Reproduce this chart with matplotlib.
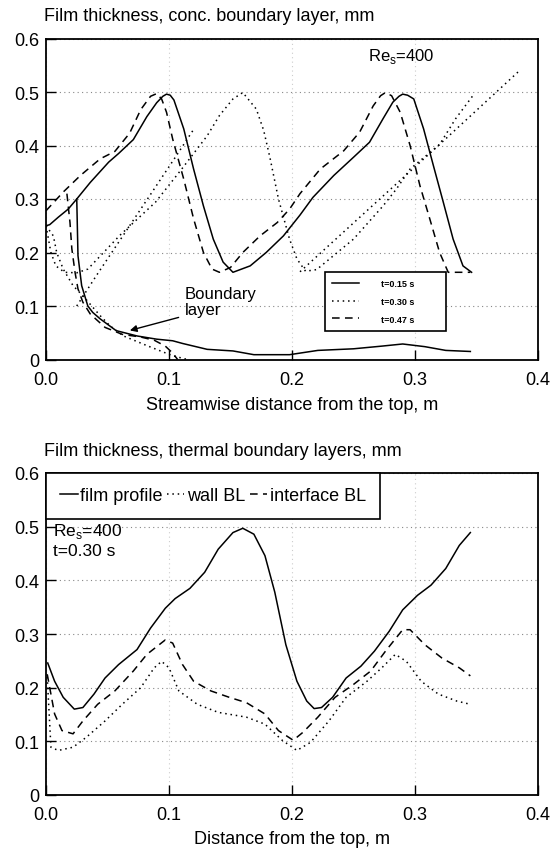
import matplotlib
matplotlib.use('Agg')
import matplotlib.pyplot as plt

plt.rcParams['font.family'] = ['Liberation Sans', 'DejaVu Sans']
plt.rcParams['mathtext.fontset'] = 'custom'
plt.rcParams['mathtext.rm'] = 'Liberation Sans'

# ---- top panel: film profiles and concentration boundary layer ----
x15 = [0.0, 0.003, 0.010, 0.018, 0.025, 0.036, 0.051, 0.059, 0.071, 0.082, 0.090, 0.095,
       0.098, 0.101, 0.104, 0.112, 0.120, 0.128, 0.136, 0.144, 0.152, 0.166, 0.179,
       0.193, 0.2065, 0.217, 0.234, 0.250, 0.263, 0.274, 0.282, 0.287, 0.290, 0.294,
       0.299, 0.307, 0.315, 0.323, 0.331, 0.339, 0.346]
y15 = [0.25, 0.252, 0.266, 0.281, 0.30, 0.331, 0.369, 0.385, 0.411, 0.454, 0.48, 0.492,
       0.496, 0.494, 0.485, 0.431, 0.356, 0.287, 0.225, 0.182, 0.163, 0.175, 0.20,
       0.231, 0.27, 0.303, 0.344, 0.378, 0.406, 0.45, 0.481, 0.492, 0.496, 0.494,
       0.487, 0.431, 0.362, 0.294, 0.225, 0.175, 0.163]
x15_bl = [0.025, 0.026, 0.029, 0.034, 0.038, 0.044, 0.057, 0.074, 0.090, 0.103, 0.111,
          0.131, 0.152, 0.169, 0.198, 0.221, 0.250, 0.273, 0.290, 0.308, 0.325, 0.345]
y15_bl = [0.30, 0.194, 0.138, 0.10, 0.088, 0.076, 0.054, 0.044, 0.038, 0.035, 0.030,
          0.019, 0.016, 0.009, 0.009, 0.017, 0.020, 0.025, 0.029, 0.024, 0.017, 0.015]

x30 = [0.0, 0.004, 0.008, 0.015, 0.025, 0.034, 0.060, 0.089, 0.110, 0.131, 0.141, 0.152,
       0.160, 0.171, 0.177, 0.182, 0.189, 0.198, 0.204, 0.211, 0.220, 0.250, 0.274,
       0.285, 0.296, 0.320, 0.333, 0.347]
y30 = [0.25, 0.20, 0.175, 0.163, 0.162, 0.169, 0.232, 0.294, 0.355, 0.418, 0.456, 0.487,
       0.499, 0.468, 0.428, 0.378, 0.30, 0.225, 0.188, 0.165, 0.168, 0.225, 0.287,
       0.319, 0.356, 0.402, 0.45, 0.493]
x30_bl = [0.0, 0.006, 0.0087, 0.014, 0.022, 0.030, 0.044, 0.052, 0.063, 0.082, 0.103, 0.115]
y30_bl = [0.25, 0.231, 0.20, 0.169, 0.138, 0.119, 0.082, 0.063, 0.044, 0.026, 0.007, 0.0]
x30_a = [0.025, 0.041, 0.106, 0.120]
y30_a = [0.10, 0.157, 0.381, 0.43]
x30_b = [0.2065, 0.320, 0.369, 0.385]
y30_b = [0.164, 0.402, 0.506, 0.54]

x47 = [0.0, 0.014, 0.028, 0.044, 0.056, 0.068, 0.077, 0.085, 0.090, 0.094, 0.098, 0.103,
       0.112, 0.120, 0.128, 0.135, 0.141, 0.150, 0.160, 0.174, 0.188, 0.198, 0.2065,
       0.223, 0.242, 0.255, 0.266, 0.272, 0.276, 0.281, 0.288, 0.296, 0.304, 0.312,
       0.320, 0.327, 0.345]
y47 = [0.278, 0.313, 0.344, 0.375, 0.389, 0.423, 0.467, 0.492, 0.497, 0.487, 0.462, 0.412,
       0.337, 0.263, 0.20, 0.169, 0.163, 0.172, 0.20, 0.231, 0.256, 0.281, 0.31,
       0.356, 0.39, 0.425, 0.474, 0.493, 0.499, 0.493, 0.462, 0.40, 0.325, 0.263,
       0.20, 0.163, 0.163]
x47_bl = [0.017, 0.0195, 0.021, 0.0236, 0.026, 0.030, 0.036, 0.048, 0.062, 0.077, 0.088,
          0.097, 0.103, 0.107]
y47_bl = [0.31, 0.256, 0.207, 0.163, 0.132, 0.107, 0.085, 0.060, 0.047, 0.042, 0.036,
          0.025, 0.012, 0.0]

# ---- bottom panel: thermal boundary layers at t = 0.30 s ----
xf = [0.0014, 0.007, 0.014, 0.023, 0.030, 0.039, 0.048, 0.059, 0.074, 0.085, 0.097, 0.105,
      0.117, 0.129, 0.140, 0.152, 0.160, 0.169, 0.178, 0.186, 0.195, 0.204, 0.212, 0.218,
      0.224, 0.233, 0.244, 0.256, 0.267, 0.279, 0.290, 0.302, 0.313, 0.325, 0.336, 0.345]
yf = [0.246, 0.212, 0.182, 0.160, 0.163, 0.188, 0.218, 0.243, 0.271, 0.311, 0.348, 0.366,
      0.385, 0.415, 0.458, 0.489, 0.497, 0.486, 0.446, 0.378, 0.280, 0.212, 0.175, 0.161,
      0.163, 0.182, 0.218, 0.240, 0.268, 0.305, 0.345, 0.372, 0.391, 0.422, 0.465, 0.489]
xw = [0.001, 0.004, 0.010, 0.022, 0.033, 0.048, 0.062, 0.077, 0.088, 0.094, 0.100, 0.108,
      0.123, 0.140, 0.163, 0.178, 0.192, 0.204, 0.215, 0.230, 0.244, 0.261, 0.273, 0.284,
      0.293, 0.305, 0.319, 0.334, 0.345]
yw = [0.22, 0.089, 0.083, 0.089, 0.108, 0.138, 0.169, 0.200, 0.237, 0.249, 0.237, 0.194,
      0.169, 0.154, 0.145, 0.132, 0.102, 0.083, 0.098, 0.138, 0.182, 0.212, 0.237, 0.262,
      0.249, 0.212, 0.188, 0.175, 0.169]
xi = [0.001, 0.007, 0.013, 0.022, 0.030, 0.042, 0.056, 0.071, 0.082, 0.097, 0.103, 0.111,
      0.120, 0.134, 0.149, 0.163, 0.178, 0.189, 0.201, 0.209, 0.221, 0.235, 0.250, 0.264,
      0.276, 0.290, 0.296, 0.308, 0.322, 0.336, 0.345]
yi = [0.225, 0.151, 0.120, 0.114, 0.138, 0.169, 0.194, 0.231, 0.262, 0.289, 0.283, 0.243,
      0.212, 0.194, 0.182, 0.172, 0.151, 0.120, 0.102, 0.117, 0.145, 0.182, 0.206, 0.231,
      0.268, 0.308, 0.308, 0.280, 0.255, 0.237, 0.222]

xticks = [0.0, 0.1, 0.2, 0.3, 0.4]
xtick_labels = ['0.0', '0.1', '0.2', '0.3', '0.4']
yticks = [0.0, 0.1, 0.2, 0.3, 0.4, 0.5, 0.6]
ytick_labels = ['0', '0.1', '0.2', '0.3', '0.4', '0.5', '0.6']

DOT = (0, (1, 2.5))
DASH = (0, (5, 3.5))
LW = 1.1

W, H = 558, 854
fig = plt.figure(figsize=(W / 100, H / 100), dpi=100)


def frame(ax):
    ax.set_xlim(0, 0.4)
    ax.set_ylim(0, 0.6)
    ax.set_xticks(xticks)
    ax.set_xticklabels(xtick_labels)
    ax.set_yticks(yticks)
    ax.set_yticklabels(ytick_labels)
    ax.tick_params(direction='in', length=7, width=1, labelsize=13, pad=5)
    ax.tick_params(axis='x', pad=8)
    ax.grid(axis='y', color='#888888', linestyle=(0, (1, 3)), linewidth=0.8)
    ax.grid(axis='x', color='#cccccc', linestyle=(0, (1, 3)), linewidth=0.8)
    for s in ax.spines.values():
        s.set_linewidth(1.3)


# top
ax1 = fig.add_axes([46 / W, 1 - 360.5 / H, 492 / W, 321 / H])
frame(ax1)
l1, = ax1.plot(x15, y15, color='k', lw=LW, label='t=0.15 s')
ax1.plot(x15_bl, y15_bl, color='k', lw=LW)
l2, = ax1.plot(x30, y30, color='k', lw=LW, ls=DOT, label='t=0.30 s')
ax1.plot(x30_bl, y30_bl, color='k', lw=LW, ls=DOT)
ax1.plot(x30_a, y30_a, color='k', lw=LW, ls=DOT)
ax1.plot(x30_b, y30_b, color='k', lw=LW, ls=DOT)
l3, = ax1.plot(x47, y47, color='k', lw=LW, ls=DASH, label='t=0.47 s')
ax1.plot(x47_bl, y47_bl, color='k', lw=LW, ls=DASH)
ax1.text(0.262, 0.569, r'Re$_\mathregular{s}$=400', fontsize=12, va='center')
ax1.text(0.113, 0.137, 'Boundary\nlayer', fontsize=12, va='top', linespacing=1.05)
ax1.annotate('', xy=(0.066, 0.053), xytext=(0.110, 0.080),
             arrowprops=dict(arrowstyle='-|>', color='k', lw=1, mutation_scale=10))
leg1 = ax1.legend(handles=[l1, l2, l3], loc='upper left',
                  bbox_to_anchor=(0.567, 0.085, 0.247, 0.187), mode='expand',
                  borderaxespad=0, prop={'size': 6.5, 'weight': 'bold'},
                  handlelength=3, handletextpad=2.4, labelspacing=0.95, borderpad=0.8,
                  fancybox=False, framealpha=1, edgecolor='k')
leg1.get_frame().set_linewidth(1.2)
fig.text(44 / W, 1 - 16.5 / H, 'Film thickness, conc. boundary layer, mm',
         fontsize=13, va='center', ha='left')
fig.text(292 / W, 1 - 406 / H, 'Streamwise distance from the top, m',
         fontsize=13, va='center', ha='center')

# bottom
ax2 = fig.add_axes([46 / W, 1 - 796 / H, 492 / W, 322 / H])
frame(ax2)
ax2.plot(xf, yf, color='k', lw=LW, label='film profile')
ax2.plot(xw, yw, color='k', lw=LW, ls=DOT, label='wall BL')
ax2.plot(xi, yi, color='k', lw=LW, ls=DASH, label='interface BL')
ax2.text(0.006, 0.492, r'Re$_\mathregular{s}$=400', fontsize=12.5, va='center')
ax2.text(0.006, 0.456, 't=0.30 s', fontsize=12.5, va='center')
leg2 = ax2.legend(loc='upper left', bbox_to_anchor=(0, 1), borderaxespad=0, ncol=3,
                  fontsize=13, handlelength=0.95, handletextpad=0.15, columnspacing=0.25,
                  borderpad=0.8, fancybox=False, framealpha=1, edgecolor='k')
leg2.get_frame().set_linewidth(1.2)
fig.text(44 / W, 1 - 451.5 / H, 'Film thickness, thermal boundary layers, mm',
         fontsize=13, va='center', ha='left')
fig.text(292 / W, 1 - 840 / H, 'Distance from the top, m',
         fontsize=13, va='center', ha='center')

fig.savefig('out.png', dpi=100)
